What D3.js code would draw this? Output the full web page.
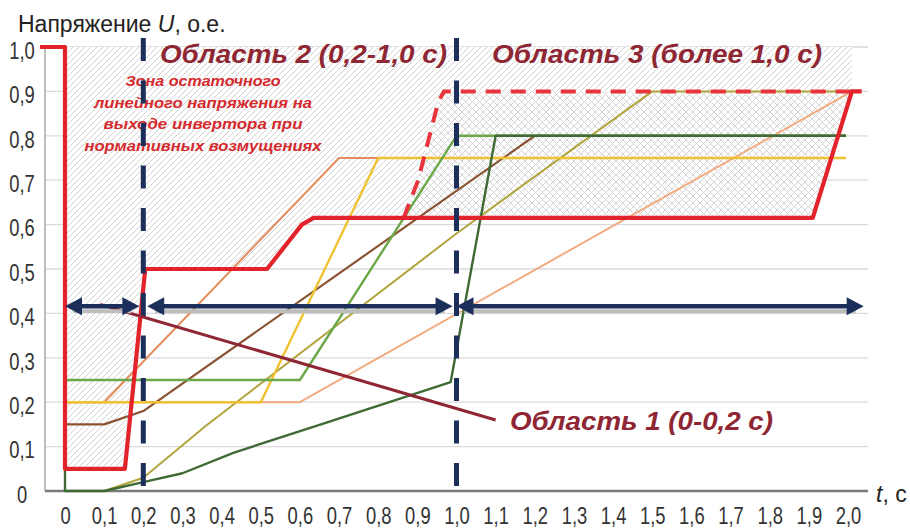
<!DOCTYPE html>
<html>
<head>
<meta charset="utf-8">
<script src="https://cdn.jsdelivr.net/npm/d3@7"></script>
<style>
  html, body { margin: 0; padding: 0; background: #fff; }
  svg { display: block; font-family: "Liberation Sans", Arial, sans-serif; }
</style>
</head>
<body>
<svg id="chart" width="910" height="530"></svg>
<script>
// ---------------- DATA ----------------
const timeTicks = [0,0.1,0.2,0.3,0.4,0.5,0.6,0.7,0.8,0.9,1.0,1.1,1.2,1.3,1.4,1.5,1.6,1.7,1.8,1.9,2.0];
const voltageTicks = [0,0.1,0.2,0.3,0.4,0.5,0.6,0.7,0.8,0.9,1.0];

// boundary of the residual-voltage zone (solid red)
const redBoundary = [[-0.064,1],[0,1],[0,0.05],[0.153,0.05],[0.205,0.5],[0.516,0.5],[0.605,0.6],[0.635,0.615],[1.91,0.615],[2.01,0.9],[2.035,0.9]];
// upper dashed red boundary
const redDashed = [[0.865,0.615],[0.902,0.70],[0.953,0.875],[0.968,0.9],[2.01,0.9]];

// voltage recovery curves
const curvePeach   = [[0,0.2],[0.6,0.2],[2.01,0.9]];
const curveSalmon  = [[0,0.2],[0.1,0.2],[0.7,0.75],[0.8,0.75]];
const curveBrown   = [[0,0.15],[0.1,0.15],[0.2,0.18],[1.2,0.8],[1.995,0.8]];
const curveOlive   = [[0.1,0],[0.2,0.03],[0.36,0.147],[1.0,0.58],[1.5,0.9],[2.0,0.9]];
const curveYellow  = [[0,0.2],[0.5,0.2],[0.8,0.75],[1.995,0.75]];
const curveGreen   = [[0,0.25],[0.6,0.25],[1.0,0.8],[1.995,0.8]];
const curveDkGreen = [[0,1],[0,0],[0.1,0],[0.2,0.02],[0.3,0.04],[0.43,0.086],[0.65,0.149],[0.985,0.245],[1.1,0.8],[1.995,0.8]];

// region boundaries and arrows
const regionBounds = [0.2, 1.0];
const arrowSpans = [[0,0.19],[0.21,0.99],[1.0,2.04]];
const arrowLevel = 0.416;
const pointerLine = [[0.09,0.42],[1.1,0.16]];

const zoneText = ["Зона остаточного","линейного напряжения на","выходе инвертора  при","нормативных возмущениях"];
const regionLabels = ["Область 1 (0-0,2 с)","Область 2 (0,2-1,0 с)","Область 3 (более 1,0 с)"];

// ---------------- DRAWING ----------------
const svg = d3.select("#chart");
const x = d3.scaleLinear().domain([0,2]).range([65,848]);
const y = d3.scaleLinear().domain([0,1]).range([491,47]);
const line = d3.line().x(d => x(d[0])).y(d => y(d[1]));
const fmt = v => v === 0 ? "0" : d3.format(".1f")(v).replace(".", ",");

const defs = svg.append("defs");
const hatch = defs.append("pattern").attr("id","hatch").attr("patternUnits","userSpaceOnUse")
  .attr("width",6).attr("height",6);
hatch.append("rect").attr("width",6).attr("height",6).attr("fill","#fff");
hatch.append("path").attr("d","M-1,1 L1,-1 M0,6 L6,0 M5,7 L7,5").attr("stroke","#d2d2d2").attr("stroke-width",1);

const cross = defs.append("pattern").attr("id","cross").attr("patternUnits","userSpaceOnUse")
  .attr("width",7).attr("height",7);
cross.append("rect").attr("width",7).attr("height",7).attr("fill","#fff");
cross.append("path").attr("d","M0,7 L7,0 M-1,1 L1,-1 M6,8 L8,6 M0,0 L7,7 M-1,6 L1,8 M6,-1 L8,1")
  .attr("stroke","#cdcdcd").attr("stroke-width",0.85);

// grid lines
svg.append("g").selectAll("line").data(voltageTicks.filter(v => v > 0)).join("line")
  .attr("x1",45).attr("x2",868).attr("y1",d => y(d)).attr("y2",d => y(d))
  .attr("stroke","#dadada").attr("stroke-width",1.3);

// hatched zone (above red boundary)
const zone = [[0,1],[2.01,1],[2.01,0.9]].concat(redBoundary.slice(1,10).reverse());
svg.append("path").attr("d", line(zone) + "Z").attr("fill","url(#hatch)");
// cross-hatched zone between dashed and solid boundary
const crossZone = redDashed.concat([[1.91,0.615]]);
svg.append("path").attr("d", line(crossZone) + "Z").attr("fill","url(#cross)");

// axes
const yAxis = svg.append("g").attr("transform","translate(45,0)")
  .call(d3.axisLeft(y).tickValues(voltageTicks).tickSize(0).tickFormat(fmt));
yAxis.select(".domain").remove();
yAxis.selectAll("text").attr("x",-23/0.8).attr("y",4).attr("dy","0.32em")
  .attr("text-anchor","middle").attr("transform","scale(0.8,1)")
  .attr("font-size",23).attr("fill","#333").attr("font-family","Liberation Sans, Arial, sans-serif");

const xAxis = svg.append("g").attr("transform","translate(0,491)")
  .call(d3.axisBottom(x).tickValues(timeTicks).tickSize(0).tickFormat(fmt));
xAxis.select(".domain").remove();
xAxis.selectAll("text").attr("y",33).attr("dy",null).attr("x",0).attr("transform","scale(0.8,1)")
  .attr("font-size",23).attr("fill","#333").attr("font-family","Liberation Sans, Arial, sans-serif");

svg.append("line").attr("x1",45).attr("x2",45).attr("y1",47).attr("y2",491)
  .attr("stroke","#a8a8a8").attr("stroke-width",1.5);
svg.append("line").attr("x1",45).attr("x2",868).attr("y1",491).attr("y2",491)
  .attr("stroke","#7a7a7a").attr("stroke-width",2.5);

// curves
const curves = [
  [curvePeach,  "#f2ab80", 2],
  [curveSalmon, "#e68c5c", 2],
  [curveBrown,  "#8a5232", 2.2],
  [curveOlive,  "#b1a43c", 2],
  [curveYellow, "#f0c232", 2.4],
  [curveGreen,  "#6aa84a", 2.4],
  [curveDkGreen,"#3f6a35", 2.4]
];
svg.append("g").selectAll("path").data(curves).join("path")
  .attr("d", d => line(d[0])).attr("fill","none")
  .attr("stroke", d => d[1]).attr("stroke-width", d => d[2]).attr("stroke-linejoin","round");

// red boundaries
svg.append("path").attr("d", line(redDashed)).attr("fill","none")
  .attr("stroke","#e8343c").attr("stroke-width",4).attr("stroke-dasharray","15,10");
svg.append("path").attr("d", line(redBoundary)).attr("fill","none")
  .attr("stroke","#e3232b").attr("stroke-width",4.2).attr("stroke-linejoin","round");

// zone text
const zt = svg.append("g").attr("font-weight","bold").attr("font-style","italic")
  .attr("font-size",15).attr("fill","#d52a2e").attr("text-anchor","middle");
const ztLens = [155, 218, 199, 237];
zt.selectAll("text").data(zoneText).join("text")
  .attr("x", 203).attr("y", (d,i) => 86 + i*21.7)
  .attr("textLength", (d,i) => ztLens[i]).attr("lengthAdjust","spacingAndGlyphs")
  .text(d => d);

// region boundaries (navy dashed)
svg.append("g").selectAll("line").data(regionBounds).join("line")
  .attr("x1", d => x(d)).attr("x2", d => x(d)).attr("y1", y(1.02)).attr("y2", y(0.007))
  .attr("stroke","#1c2e5a").attr("stroke-width",5).attr("stroke-dasharray","23,19.5");

// pointer line to label 1
svg.append("path").attr("d", line(pointerLine)).attr("stroke","#8e2634").attr("stroke-width",3);

// arrows
const ay = y(arrowLevel);
const ag = svg.append("g");
ag.selectAll("line.sh").data(arrowSpans).join("line").attr("class","sh")
  .attr("x1", d => x(d[0]) + 8).attr("x2", d => x(d[1]) - 8).attr("y1", ay + 5).attr("y2", ay + 5)
  .attr("stroke","#bdbdbd").attr("stroke-width",4);
ag.selectAll("line.sf").data(arrowSpans).join("line").attr("class","sf")
  .attr("x1", d => x(d[0]) + 8).attr("x2", d => x(d[1]) - 8).attr("y1", ay).attr("y2", ay)
  .attr("stroke","#1c2e5a").attr("stroke-width",4.5);
const heads = [];
arrowSpans.forEach(s => { heads.push([x(s[0]), 1]); heads.push([x(s[1]), -1]); });
ag.selectAll("path").data(heads).join("path")
  .attr("d", d => `M${d[0]},${ay} L${d[0] + d[1]*17},${ay-9} L${d[0] + d[1]*17},${ay+9} Z`)
  .attr("fill","#1c2e5a");

// region labels
const lab = svg.append("g").attr("font-weight","bold").attr("font-style","italic")
  .attr("font-size",25).attr("fill","#8e2634");
const labPos = [[510,430,263],[160,63,287],[492,63,330]];
lab.selectAll("text").data(regionLabels).join("text")
  .attr("x",(d,i) => labPos[i][0]).attr("y",(d,i) => labPos[i][1])
  .attr("textLength",(d,i) => labPos[i][2]).attr("lengthAdjust","spacingAndGlyphs")
  .text(d => d);

// axis titles
const tt = svg.append("text").attr("x",18).attr("y",32).attr("font-size",23).attr("fill","#222");
tt.append("tspan").text("Напряжение ");
tt.append("tspan").attr("font-style","italic").text("U");
tt.append("tspan").text(", о.е.");

const xt = svg.append("text").attr("x",876).attr("y",502).attr("font-size",23).attr("fill","#222");
xt.append("tspan").attr("font-style","italic").text("t");
xt.append("tspan").text(", с");
</script>
</body>
</html>
